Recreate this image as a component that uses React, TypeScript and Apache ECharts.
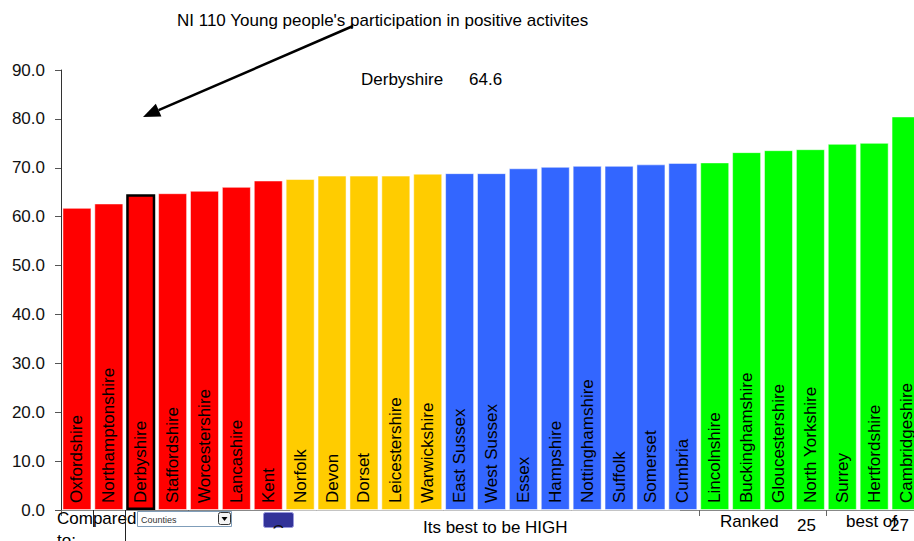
import React, { useEffect, useRef } from "react";
import * as echarts from "echarts";

const categories = [
  "Oxfordshire", "Northamptonshire", "Derbyshire", "Staffordshire", "Worcestershire", "Lancashire", "Kent",
  "Norfolk", "Devon", "Dorset", "Leicestershire", "Warwickshire",
  "East Sussex", "West Sussex", "Essex", "Hampshire", "Nottinghamshire", "Suffolk", "Somerset", "Cumbria",
  "Lincolnshire", "Buckinghamshire", "Gloucestershire", "North Yorkshire", "Surrey", "Hertfordshire", "Cambridgeshire",
];
const values = [
  61.8, 62.7, 64.6, 64.8, 65.3, 66.1, 67.4,
  67.7, 68.4, 68.4, 68.4, 68.8,
  68.9, 68.9, 69.9, 70.2, 70.4, 70.4, 70.7, 71.0,
  71.1, 73.2, 73.6, 73.8, 74.9, 75.1, 80.5,
];
const bands = [
  "q1", "q1", "q1", "q1", "q1", "q1", "q1",
  "q2", "q2", "q2", "q2", "q2",
  "q3", "q3", "q3", "q3", "q3", "q3", "q3", "q3",
  "q4", "q4", "q4", "q4", "q4", "q4", "q4",
];
const bandColors: Record<string, string> = { q1: "#ff0000", q2: "#ffcc00", q3: "#3366ff", q4: "#00ff00" };
const yMin = 0;
const yMax = 90;
const yInterval = 10;
const titleText = "NI 110 Young people's participation in positive activites";
const highlighted = "Derbyshire";
const highlightValue = "64.6";
const rankText = "25";
const totalText = "27";

const FONT = "Arial, 'Liberation Sans', sans-serif";

export default function App() {
  const ref = useRef<HTMLDivElement>(null);
  useEffect(() => {
    if (!ref.current) return;
    const chart = echarts.init(ref.current, null, { renderer: "svg" });
    const data = values.map((v, i) => ({
      value: v,
      itemStyle:
        categories[i] === highlighted
          ? { color: bandColors[bands[i]], borderColor: "#000", borderWidth: 2.5 }
          : { color: bandColors[bands[i]], borderColor: "rgba(255,255,255,0.5)", borderWidth: 1 },
    }));
    const txt = (x: number, y: number, text: string, size = 17, extra: any = {}) => ({
      type: "text",
      x,
      y,
      style: { text, fontSize: size, fontFamily: FONT, fill: "#000", verticalAlign: "middle", ...extra },
      z: 100,
    });
    chart.setOption({
      animation: false,
      backgroundColor: "#fff",
      grid: { left: 61, top: 70, bottom: 31, width: 861, outerBoundsMode: "none", containLabel: false },
      xAxis: {
        type: "category",
        data: categories,
        axisLine: { lineStyle: { color: "#888", width: 1 } },
        axisTick: { show: true, length: 6, lineStyle: { color: "#666" } },
        axisLabel: { show: false },
      },
      yAxis: {
        type: "value",
        min: yMin,
        max: yMax,
        interval: yInterval,
        splitLine: { show: false },
        axisLine: { show: true, lineStyle: { color: "#333" } },
        axisTick: { show: true, length: 6, lineStyle: { color: "#555" } },
        axisLabel: {
          margin: 16,
          fontSize: 17,
          fontFamily: FONT,
          color: "#111",
          formatter: (v: number) => v.toFixed(1),
        },
      },
      series: [
        {
          type: "bar",
          data,
          barCategoryGap: "9%",
          label: {
            show: true,
            position: "insideBottom",
            distance: 7,
            rotate: 90,
            align: "left",
            verticalAlign: "middle",
            formatter: "{b}",
            fontSize: 17,
            fontFamily: FONT,
            color: "#000",
          },
        },
      ],
      graphic: [
        txt(177, 20, titleText),
        {
          type: "line",
          shape: { x1: 353, y1: 26, x2: 158.6, y2: 110.2 },
          style: { stroke: "#000", lineWidth: 2.5 },
          z: 100,
        },
        {
          type: "polygon",
          shape: { points: [[143, 117], [161.4, 116.6], [155.8, 103.8]] },
          style: { fill: "#000" },
          z: 100,
        },
        txt(361, 79, highlighted),
        txt(469, 79, highlightValue),
        {
          type: "rect",
          shape: { x: 290, y: 510.6, width: 390, height: 31 },
          style: { fill: "#fff" },
          z: 90,
        },
        txt(57, 518, "Compared"),
        txt(57, 540, "to:"),
        {
          type: "line",
          shape: { x1: 93.5, y1: 510, x2: 93.5, y2: 527 },
          style: { stroke: "#222", lineWidth: 1 },
          z: 100,
        },
        {
          type: "line",
          shape: { x1: 125.5, y1: 510, x2: 125.5, y2: 541 },
          style: { stroke: "#222", lineWidth: 1 },
          z: 100,
        },
        {
          type: "rect",
          shape: { x: 137.5, y: 511.5, width: 94, height: 15 },
          style: { fill: "#fff", stroke: "#7f9db9", lineWidth: 1 },
          z: 100,
        },
        txt(141, 519.5, "Counties", 9, { fill: "#333" }),
        {
          type: "rect",
          shape: { x: 218.5, y: 512.5, width: 12, height: 12, r: 2 },
          style: { fill: "#f4f4f4", stroke: "#333", lineWidth: 1 },
          z: 101,
        },
        {
          type: "polygon",
          shape: { points: [[221.5, 517], [227.5, 517], [224.5, 521]] },
          style: { fill: "#000" },
          z: 102,
        },
        {
          type: "rect",
          shape: { x: 263.5, y: 512.5, width: 30, height: 15, r: 2 },
          style: { fill: "#333399", stroke: "#9999dd", lineWidth: 1 },
          z: 100,
        },
        {
          type: "text",
          x: 278.5,
          y: 531,
          style: { text: "G", fontSize: 16, fontFamily: FONT, fill: "#111", align: "center", verticalAlign: "middle" },
          z: 101,
        },
        {
          type: "rect",
          shape: { x: 262, y: 528.5, width: 34, height: 13 },
          style: { fill: "#fff" },
          z: 102,
        },
        txt(423, 527, "Its best to be HIGH"),
        txt(720, 521, "Ranked"),
        txt(797, 525, rankText),
        txt(846, 521, "best of"),
        txt(890, 525, totalText),
      ],
    });
    return () => chart.dispose();
  }, []);
  return <div ref={ref} style={{ position: "fixed", left: 0, top: 0, width: 914, height: 541 }} />;
}
